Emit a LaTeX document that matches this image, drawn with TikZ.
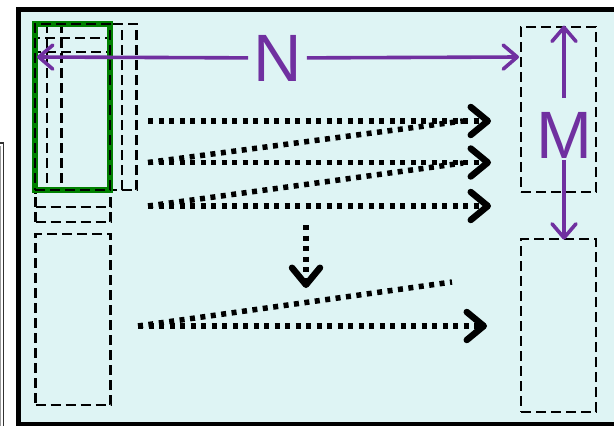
\documentclass[tikz,border=0pt]{standalone}
\usepackage{fontspec}
\newfontfamily\labelfont{Liberation Sans}
\usepackage{xcolor}
\usepackage{tikz}
\usetikzlibrary{arrows.meta, positioning}

\definecolor{bgcyan}{RGB}{222,244,244}
\definecolor{selgreen}{RGB}{0,128,0}
\definecolor{dimpurple}{RGB}{112,48,160}

\tikzset{
  win/.style={draw, line width=2.8pt, dash pattern=on 10pt off 5pt, inner sep=0pt, minimum width=75pt},
  selwin/.style={draw=selgreen, line width=5.5pt, inner sep=0pt, minimum width=75pt, minimum height=166pt},
  dim/.style={font=\labelfont\fontsize{67}{67}\selectfont, text=dimpurple, inner sep=0pt},
  dimarrow/.style={draw=dimpurple, line width=3.6pt, -{Straight Barb[length=14pt,width=24pt,round]}},
  scan/.style={line width=5.5pt, dash pattern=on 5pt off 5.5pt},
  scanarrow/.style={scan, -{Straight Barb[length=17pt,width=28pt,line width=6.5pt,round]}},
}

\begin{document}
\begin{tikzpicture}[x=1pt, y=-1pt]
  \useasboundingbox (0,0) rectangle (614,426);
  \clip (0,0) rectangle (614,426);

  \draw[line width=1.2pt, black!80] (-10,143) -- (3.5,143) -- (3.5,440);
  \draw[line width=0.8pt, black!40] (0.8,146) -- (0.8,440);
  \draw[line width=4.5pt, fill=bgcyan] (18.5,9.5) rectangle (650,424);

  \node[win, minimum height=166pt] (winB) at (84.5,107) {};
  \node[win, minimum height=166pt] (winC) at (99,107) {};
  \node[win, minimum height=169pt] (winD) at (73,122.5) {};
  \node[win, minimum height=170pt] (winE) at (73,137) {};
  \node[win, minimum height=171pt] (low) at (73,319.5) {};
  \node[selwin] (sel) at (72.5,107) {};
  \node[win, minimum height=166pt] (winA) at (72.5,107) {};

  \node[win, minimum height=165pt] (outTop) at (558.5,109.5) {};
  \node[win, minimum height=173pt] (outLow) at (558.5,325.5) {};

  \node[dim, inner xsep=5pt] (N) at (277.5,58) {N};
  \node[dim] (M) at (564,135) {M};
  \coordinate (nL) at (37,57);
  \coordinate (nR) at (519,57);
  \coordinate (mU) at (564,98);
  \coordinate (mD) at (564,160);
  \draw[dimarrow] (N) -- (nL);
  \draw[dimarrow] (N) -- (nR);
  \draw[dimarrow] (mU) -- (outTop.north -| mU);
  \draw[dimarrow] (mD) -- ([yshift=-2pt]outLow.north -| mD);

  \coordinate (r1) at (148,121);
  \coordinate (r2) at (148,162.5);
  \coordinate (r3) at (148,206);
  \coordinate (r4) at (138,326);
  \coordinate (e1) at (491,121);
  \coordinate (e2) at (491,162.5);
  \coordinate (e3) at (491,206);
  \coordinate (e4) at (487,326);
  \coordinate (d1) at (463,121);
  \coordinate (d2) at (463,163);
  \coordinate (d4) at (452,282);
  \coordinate (vs) at (306,225);
  \coordinate (ve) at (306,288);
  \draw[scanarrow] (r1) -- (e1);
  \draw[scanarrow] (r2) -- (e2);
  \draw[scanarrow] (r3) -- (e3);
  \draw[scanarrow] (r4) -- (e4);
  \draw[scan] (r2) -- (d1);
  \draw[scan] (r3) -- (d2);
  \draw[scan] (r4) -- (d4);
  \draw[scanarrow] (vs) -- (ve);
\end{tikzpicture}
\end{document}
